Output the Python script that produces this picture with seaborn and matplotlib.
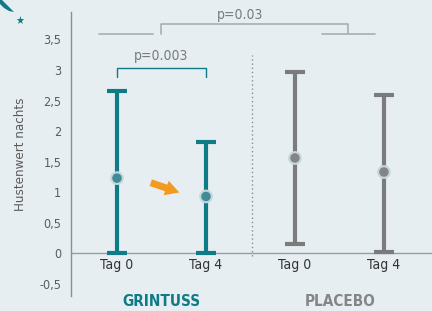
import matplotlib
matplotlib.use("Agg")
import matplotlib.pyplot as plt
import seaborn as sns
import pandas as pd
import numpy as np
from matplotlib.patches import Polygon

groups = ["GRINTUSS", "GRINTUSS", "PLACEBO", "PLACEBO"]
days = ["Tag 0", "Tag 4", "Tag 0", "Tag 4"]
means = [1.23, 0.93, 1.56, 1.33]
lows = [0.0, 0.0, 0.15, 0.02]
highs = [2.66, 1.82, 2.97, 2.59]
yticks = [-0.5, 0, 0.5, 1, 1.5, 2, 2.5, 3, 3.5]
ytick_labels = ["-0,5", "0", "0,5", "1", "1,5", "2", "2,5", "3", "3,5"]

BG = "#e7eef1"
TEAL = "#0f7b86"
TEAL_PT = "#3f8c97"
GRAY = "#7b7b7d"
GRAY_PT = "#858587"
TXT = "#5a5a5a"
LIGHT = "#a9aeb1"

sns.set_theme(style="white")
plt.rcParams["font.family"] = ["DejaVu Sans"]
plt.rcParams["font.stretch"] = "condensed"

df = pd.DataFrame({"group": groups, "day": days, "mean": means, "low": lows, "high": highs})
df["pos"] = np.arange(len(df))

fig = plt.figure(figsize=(4.32, 3.11), dpi=100, facecolor=BG)
ax = fig.add_axes([71/432, 1-296/311, 1-71/432, (296-12)/311])
ax.set_facecolor(BG)

colors = [TEAL, TEAL, GRAY, GRAY]
ptcolors = [TEAL_PT, TEAL_PT, GRAY_PT, GRAY_PT]

ax.axhline(0, color="#9a9ea1", lw=1.0, zorder=1)

for i, r in df.iterrows():
    ax.errorbar(r["pos"], r["mean"], yerr=[[r["mean"] - r["low"]], [r["high"] - r["mean"]]],
                fmt="none", ecolor=colors[i], elinewidth=3.0, capsize=7, capthick=3.0, zorder=2)

sns.scatterplot(data=df, x="pos", y="mean", hue="pos", palette=ptcolors, s=70,
                edgecolor="#c5d8dc", linewidth=1.5, legend=False, ax=ax, zorder=3)

ax.set_xlim(-0.517, 3.54)
ax.set_ylim(-0.70, 3.95)
ax.set_yticks(yticks)
ax.set_yticklabels(ytick_labels, color=TXT, fontsize=9)
ax.tick_params(axis="y", length=0, pad=7)
ax.set_xticks(df["pos"])
ax.set_xticklabels(df["day"], color="#333333", fontsize=10)
ax.tick_params(axis="x", length=0, pad=-27)
ax.set_xlabel("")
ax.set_ylabel("Hustenwert nachts", color=TXT, fontsize=9.5, labelpad=9)
for s in ["top", "right", "bottom"]:
    ax.spines[s].set_visible(False)
ax.spines["left"].set_color("#8a8e91")
ax.spines["left"].set_linewidth(1.0)

# divider
ax.plot([1.52, 1.52], [-0.05, 3.25], color="#8a8e91", lw=1.0, ls=(0, (1, 2)), zorder=1)

# bracket p=0.003
ax.plot([0, 0, 1, 1], [2.88, 3.03, 3.03, 2.88], color=TEAL, lw=1.0)
ax.text(0.5, 3.12, "p=0.003", ha="center", va="bottom", color="#7a7a7a", fontsize=10)

# bracket p=0.03
ax.plot([-0.2, 0.4], [3.59, 3.59], color=LIGHT, lw=1.2)
ax.plot([2.3, 2.9], [3.59, 3.59], color=LIGHT, lw=1.2)
ax.plot([0.5, 0.5, 2.6, 2.6], [3.59, 3.75, 3.75, 3.59], color=LIGHT, lw=1.2)
ax.text(1.38, 3.79, "p=0.03", ha="center", va="bottom", color="#7a7a7a", fontsize=10)

# group labels
fig.text(161/432, 1-301/311, "GRINTUSS", color=TEAL, fontsize=11, fontweight="bold", ha="center", va="center")
fig.text(340/432, 1-301/311, "PLACEBO", color=GRAY_PT, fontsize=11, fontweight="bold", ha="center", va="center")

# orange arrow
ax.annotate("", xy=(0.73, 0.98), xytext=(0.35, 1.17),
            arrowprops=dict(arrowstyle="simple,head_length=0.5,head_width=0.55,tail_width=0.25",
                            mutation_scale=20, color="#f39a1f", lw=0))

# decoration top-left
fig.text(20/432, 1-22/311, "★", color=TEAL, fontsize=8, ha="center", va="center")
pts = [(2, 0), (6, 4), (10, 8), (14, 12), (9, 11), (4, 8), (0, 4), (0, 0)]
poly = Polygon([(x/432, 1-y/311) for x, y in pts], closed=True, transform=fig.transFigure,
               facecolor=TEAL, edgecolor="none")
fig.patches.append(poly)

fig.savefig("out.png", dpi=100, facecolor=BG)
